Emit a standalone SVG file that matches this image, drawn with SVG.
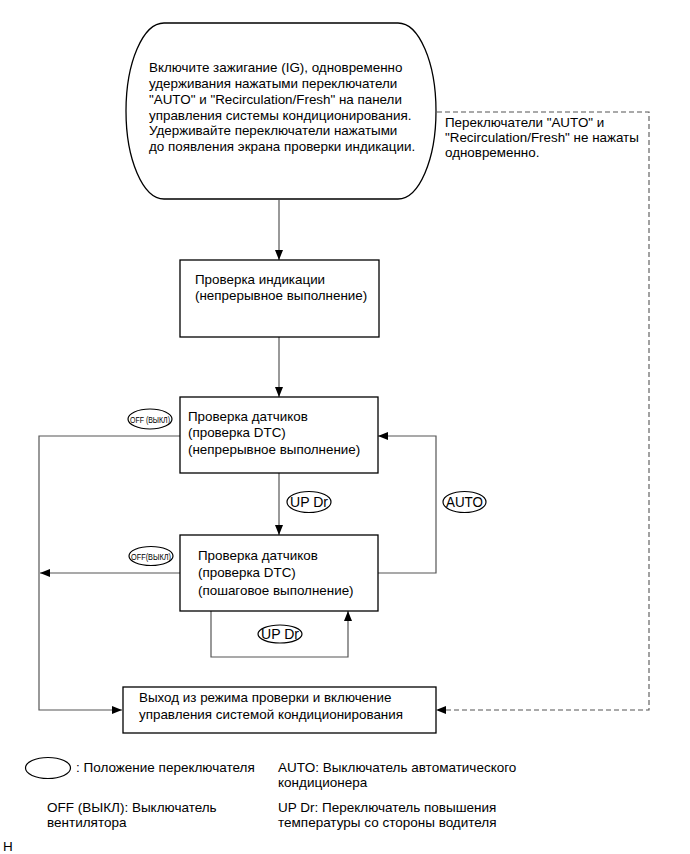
<svg xmlns="http://www.w3.org/2000/svg" width="690" height="854" viewBox="0 0 690 854">
<defs>
<marker id="arr" markerWidth="10" markerHeight="8" refX="10" refY="4" orient="auto" markerUnits="userSpaceOnUse">
<path d="M0,0 L10,4 L0,8 Z" fill="#000"/>
</marker>
</defs>
<style>
text{font-family:"Liberation Sans",Arial,sans-serif;font-size:13.4px;fill:#000}
.lg{font-size:13.5px}
.sm{font-size:9px}
.ol{font-size:14px}
.box{fill:#fff;stroke:#000;stroke-width:1.3}
.con{fill:none;stroke:#555;stroke-width:1.2}
.dash{fill:none;stroke:#555;stroke-width:1.1;stroke-dasharray:5,3}
.ov{fill:#fff;stroke:#000;stroke-width:1.2}
</style>
<rect width="690" height="854" fill="#fff"/>
<g id="connectors">
<line class="con" x1="279" y1="200" x2="279" y2="260" marker-end="url(#arr)"/>
<line class="con" x1="279" y1="337" x2="279" y2="397" marker-end="url(#arr)"/>
<line class="con" x1="279" y1="473" x2="279" y2="535" marker-end="url(#arr)"/>
<polyline class="con" points="378,573 436,573 436,436 378,436" marker-end="url(#arr)"/>
<polyline class="con" points="180,436 39,436 39,710 122,710" marker-end="url(#arr)"/>
<line class="con" x1="180" y1="573" x2="40" y2="573" marker-end="url(#arr)"/>
<polyline class="con" points="211,611 211,657 348,657 348,611" marker-end="url(#arr)"/>
<polyline class="dash" points="437,112 649,112 649,710 436,710" marker-end="url(#arr)"/>
</g>
<g id="start">
<rect class="box" x="126" y="23" width="310" height="176" rx="38" ry="88"/>
<text x="149" y="72">Включите зажигание (IG), одновременно</text>
<text x="149" y="88">удерживания нажатыми переключатели</text>
<text x="149" y="104">"AUTO" и "Recirculation/Fresh" на панели</text>
<text x="149" y="120">управления системы кондиционирования.</text>
<text x="149" y="135">Удерживайте переключатели нажатыми</text>
<text x="149" y="151">до появления экрана проверки индикации.</text>
</g>
<g id="note">
<text x="445" y="127">Переключатели "AUTO" и</text>
<text x="445" y="142">"Recirculation/Fresh" не нажаты</text>
<text x="445" y="157">одновременно.</text>
</g>
<g id="indication">
<rect class="box" x="180" y="260" width="199" height="77"/>
<text x="195" y="284">Проверка индикации</text>
<text x="195" y="300">(непрерывное выполнение)</text>
</g>
<g id="sensor-cont">
<rect class="box" x="180" y="397" width="198" height="76"/>
<text x="188" y="421">Проверка датчиков</text>
<text x="188" y="437">(проверка DTC)</text>
<text x="188" y="454">(непрерывное выполнение)</text>
</g>
<g id="sensor-step">
<rect class="box" x="180" y="535" width="198" height="76"/>
<text x="198" y="560">Проверка датчиков</text>
<text x="198" y="577">(проверка DTC)</text>
<text x="198" y="595">(пошаговое выполнение)</text>
</g>
<g id="exit">
<rect class="box" x="123" y="687" width="313" height="46"/>
<text x="139" y="702">Выход из режима проверки и включение</text>
<text x="139" y="719">управления системой кондиционирования</text>
</g>
<g id="sw-off1">
<ellipse class="ov" cx="150" cy="419" rx="22" ry="10"/>
<text class="sm" x="150" y="422.5" text-anchor="middle" textLength="40" lengthAdjust="spacingAndGlyphs">OFF (ВЫКЛ)</text>
</g>
<g id="sw-off2">
<ellipse class="ov" cx="151" cy="556" rx="22" ry="9.5"/>
<text class="sm" x="151" y="559.5" text-anchor="middle" textLength="40" lengthAdjust="spacingAndGlyphs">OFF(ВЫКЛ)</text>
</g>
<g id="sw-updr1">
<ellipse class="ov" cx="309" cy="502" rx="22" ry="10.5"/>
<text class="ol" x="309" y="507" text-anchor="middle" textLength="38" lengthAdjust="spacingAndGlyphs">UP Dr</text>
</g>
<g id="sw-auto">
<ellipse class="ov" cx="464.5" cy="502" rx="21.5" ry="10.5"/>
<text class="ol" x="464.5" y="507" text-anchor="middle" textLength="37" lengthAdjust="spacingAndGlyphs">AUTO</text>
</g>
<g id="sw-updr2">
<ellipse class="ov" cx="280" cy="634" rx="22" ry="9"/>
<text class="ol" x="280" y="639" text-anchor="middle" textLength="38" lengthAdjust="spacingAndGlyphs">UP Dr</text>
</g>
<g id="legend">
<ellipse class="ov" cx="48" cy="768" rx="22.5" ry="10.5"/>
<text class="lg" x="76" y="772">: Положение переключателя</text>
<text class="lg" x="278" y="772">AUTO: Выключатель автоматического</text>
<text class="lg" x="278" y="787">кондиционера</text>
<text class="lg" x="47" y="812">OFF (ВЫКЛ): Выключатель</text>
<text class="lg" x="47" y="827">вентилятора</text>
<text class="lg" x="278" y="812">UP Dr: Переключатель повышения</text>
<text class="lg" x="278" y="827">температуры со стороны водителя</text>
<text class="lg" x="3" y="851">H</text>
</g>
</svg>
